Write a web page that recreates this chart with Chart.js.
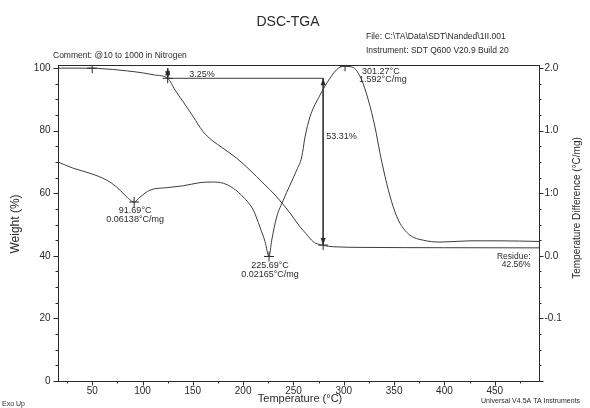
<!DOCTYPE html>
<html><head><meta charset="utf-8">
<script src="https://cdn.jsdelivr.net/npm/chart.js@4.4.0/dist/chart.umd.min.js"></script>
<style>html,body{margin:0;padding:0;background:#fff;}#wrap{width:590px;height:408px;position:relative;}</style>
</head><body><div id="wrap"><canvas id="c"></canvas></div>
<script>
// ---- data ----
const tgaTemp   = [16, 40, 55, 70, 85, 100, 112, 125, 132.3, 140.5, 150.5, 160.1, 168.7, 180, 193.6, 206.8, 219.7, 233.3, 246.5, 256.5, 262.4, 269.7, 275, 280, 290, 320, 400, 494];
const tgaWeight = [100, 100, 99.9, 99.6, 99.1, 98.5, 97.8, 96.75, 93.0, 89.2, 84.4, 79.7, 77.0, 74.4, 71.2, 67.4, 63.3, 58.9, 53.7, 49.3, 47.1, 44.5, 43.7, 43.3, 42.9, 42.7, 42.6, 42.55];
const dscTemp   = [16, 31.2, 47.8, 64.4, 74.3, 82.6, 91.69, 97.5, 107.4, 124, 140.5, 157.1, 168.7, 180.3, 190.2, 200.1, 210.1, 216.7, 221.7, 225.69, 228.4, 233.3, 239.9, 246.5, 253.2, 258.2, 261.5, 266.4, 276.4, 286.3, 294.6, 301.27, 309.4, 317.8, 324.4, 331, 336, 342.6, 349.2, 355.9, 365.8, 379, 395.6, 425.4, 455.2, 494];
const dscValue  = [3.50, 3.40, 3.32, 3.21, 3.10, 2.97, 2.86, 2.94, 3.05, 3.09, 3.12, 3.17, 3.18, 3.16, 3.08, 2.94, 2.73, 2.46, 2.23, 1.99, 2.25, 2.62, 2.89, 3.13, 3.37, 3.58, 3.90, 4.22, 4.57, 4.84, 5.00, 5.03, 5.01, 4.81, 4.49, 4.06, 3.64, 3.16, 2.78, 2.52, 2.33, 2.25, 2.22, 2.24, 2.24, 2.23];
const tempTickValues   = [50, 100, 150, 200, 250, 300, 350, 400, 450];
const weightTickValues = [0, 20, 40, 60, 80, 100];
const dscTickValues    = [1, 2, 3, 4, 5];
const dscTickLabels    = ["-0.1", "0.0", "1:0", "1.0", "2.0"];
const tgaMarkTemp   = [50, 125, 279.5];
const tgaMarkWeight = [100, 96.75, 43.44];
const dscMarkTemp   = [91.69, 225.69, 301.27];
const dscMarkValue  = [2.86, 1.99, 5.03];
const stepTemps   = [125, 279.5];
const stepWeights = [100, 96.75, 43.44];
const stepLabels  = ["3.25%", "53.31%"];
const peakLabels  = [["91.69°C", "0.06138°C/mg"], ["225.69°C", "0.02165°C/mg"], ["301.27°C", "1.592°C/mg"]];
const residueLabel = ["Residue:", "42.56%"];

const INK = '#2a2a2a';
const LINE = '#3c3c3c';
const FONT = '"Liberation Sans", Arial, sans-serif';

function pts(xs, ys){ return xs.map((v,i)=>({x:v, y:ys[i]})); }

const deco = {
  id: 'deco',
  afterDraw(chart){
    const {ctx, chartArea:a, scales:{x, y, y1}} = chart;
    ctx.save();
    ctx.strokeStyle = INK; ctx.fillStyle = INK; ctx.lineWidth = 1;
    const L = Math.round(a.left)+0.5, R = Math.round(a.right)+0.5, T = Math.round(a.top)+0.5, B = Math.round(a.bottom)+0.5;
    ctx.strokeRect(L, T, R-L, B-T);
    const seg = (x1,y1_,x2,y2)=>{ctx.beginPath();ctx.moveTo(x1,y1_);ctx.lineTo(x2,y2);ctx.stroke();};
    const txt = (s,px,py,size,align,weight)=>{ctx.font=(weight||'normal')+' '+size+'px '+FONT;ctx.textAlign=align||'left';ctx.textBaseline='middle';ctx.fillText(s,px,py);};
    // left axis ticks
    for(let v=0; v<=100; v+=5){
      const py = Math.round(y.getPixelForValue(v))+0.5;
      seg(L - (v%20===0?5:3), py, L, py);
    }
    weightTickValues.forEach(v=>txt(String(v), L-8, y.getPixelForValue(v), 10, 'right'));
    // right axis ticks
    for(let v=0; v<=5; v+=0.25){
      const py = Math.round(y1.getPixelForValue(v))+0.5;
      seg(R, py, R + (Math.abs(v-Math.round(v))<1e-6?4:2), py);
    }
    dscTickValues.forEach((v,i)=>txt(dscTickLabels[i], R+5, y1.getPixelForValue(v), 10, 'left'));
    // bottom ticks
    for(let v=25; v<=494; v+=25){
      const px = Math.round(x.getPixelForValue(v))+0.5;
      seg(px, B, px, B + (v%50===0?4:2));
    }
    tempTickValues.forEach(v=>txt(String(v), x.getPixelForValue(v), B+10, 10, 'center'));
    // axis titles
    txt('Temperature (°C)', 300, 399, 11, 'center');
    ctx.save(); ctx.translate(16, 224); ctx.rotate(-Math.PI/2); txt('Weight (%)', 0, 0, 12, 'center'); ctx.restore();
    ctx.save(); ctx.translate(577, 208); ctx.rotate(-Math.PI/2); txt('Temperature Difference (°C/mg)', 0, 0, 10, 'center'); ctx.restore();
    // header texts
    txt('DSC-TGA', 288, 22, 14, 'center');
    txt('File: C:\\TA\\Data\\SDT\\Nanded\\1II.001', 366, 37, 8.5, 'left');
    txt('Instrument: SDT Q600 V20.9 Build 20', 366, 51, 8.5, 'left');
    txt('Comment: @10 to 1000 in Nitrogen', 53, 56, 8.5, 'left');
    txt('Universal V4.5A TA Instruments', 481, 401, 7, 'left');
    txt('Exo Up', 2, 404, 7, 'left');
    // arrowheads for the step arrows
    const head = (px, py, dir)=>{ctx.beginPath();ctx.moveTo(px,py);ctx.lineTo(px-2.5,py-dir*7);ctx.lineTo(px+2.5,py-dir*7);ctx.closePath();ctx.fill();};
    const s1x = x.getPixelForValue(stepTemps[0]);
    head(s1x, y.getPixelForValue(stepWeights[0]), -1);
    head(s1x, y.getPixelForValue(stepWeights[1]), 1);
    const s2x = x.getPixelForValue(stepTemps[1]);
    head(s2x, y.getPixelForValue(stepWeights[1]), -1);
    head(s2x, y.getPixelForValue(stepWeights[2]), 1);
    // step labels
    txt(stepLabels[0], 202, (y.getPixelForValue(stepWeights[0])+y.getPixelForValue(stepWeights[1]))/2+1, 9, 'center');
    txt(stepLabels[1], s2x+3, 137, 9, 'left');
    // peak labels
    const p = dscMarkTemp.map((t,i)=>({px:x.getPixelForValue(t), py:y1.getPixelForValue(dscMarkValue[i])}));
    txt(peakLabels[0][0], p[0].px+1, p[0].py+8, 9, 'center');
    txt(peakLabels[0][1], p[0].px+1, p[0].py+17, 9, 'center');
    txt(peakLabels[1][0], p[1].px+1, p[1].py+9, 9, 'center');
    txt(peakLabels[1][1], p[1].px+1, p[1].py+18, 9, 'center');
    txt(peakLabels[2][0], p[2].px+17, p[2].py+5, 9, 'left');
    txt(peakLabels[2][1], p[2].px+14, p[2].py+13, 9, 'left');
    txt(residueLabel[0], R-9, 257, 8.5, 'right');
    txt(residueLabel[1], R-9, 265, 8.5, 'right');
    ctx.restore();
  }
};

new Chart(document.getElementById('c'), {
  type: 'line',
  data: {
    datasets: [
      {label:'Weight', data: pts(tgaTemp, tgaWeight), yAxisID:'y', borderColor: LINE, borderWidth: 1, pointRadius: 0, cubicInterpolationMode: 'monotone', fill:false},
      {label:'Heat Flow', data: pts(dscTemp, dscValue), yAxisID:'y1', borderColor: LINE, borderWidth: 1, pointRadius: 0, cubicInterpolationMode: 'monotone', fill:false},
      {label:'step1', data: [{x:stepTemps[0], y:stepWeights[0]}, {x:stepTemps[0], y:stepWeights[1]}], yAxisID:'y', borderColor: LINE, borderWidth: 1, pointRadius: 0, tension: 0},
      {label:'base', data: [{x:stepTemps[0], y:stepWeights[1]}, {x:stepTemps[1], y:stepWeights[1]}], yAxisID:'y', borderColor: LINE, borderWidth: 1, pointRadius: 0, tension: 0},
      {label:'step2', data: [{x:stepTemps[1], y:stepWeights[1]}, {x:stepTemps[1], y:stepWeights[2]}], yAxisID:'y', borderColor: LINE, borderWidth: 1, pointRadius: 0, tension: 0},
      {label:'tgaMarks', data: pts(tgaMarkTemp, tgaMarkWeight), yAxisID:'y', showLine:false, pointStyle:'cross', pointRadius:5, borderColor: INK, borderWidth:1},
      {label:'dscMarks', data: pts(dscMarkTemp, dscMarkValue), yAxisID:'y1', showLine:false, pointStyle:'cross', pointRadius:5, borderColor: INK, borderWidth:1}
    ]
  },
  options: {
    responsive: true, maintainAspectRatio: false, animation: false,
    layout: {padding: {top: 65, left: 0, right: 0, bottom: 0}},
    plugins: {legend:{display:false}, tooltip:{enabled:false}, title:{display:false}},
    scales: {
      x: {type:'linear', min:16, max:494, grid:{display:false}, border:{display:false}, ticks:{display:false}, afterFit(s){ s.height = 27; }},
      y: {position:'left', min:0, max:101, grid:{display:false}, border:{display:false}, ticks:{display:false}, afterFit(s){ s.width = 58; }},
      y1:{position:'right', min:0, max:5.05, grid:{display:false}, border:{display:false}, ticks:{display:false}, afterFit(s){ s.width = 51; }}
    }
  },
  plugins: [deco]
});
</script>
</body></html>
